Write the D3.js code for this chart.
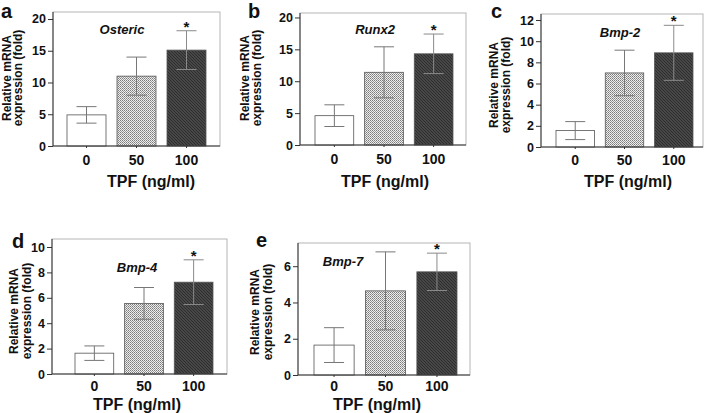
<!DOCTYPE html>
<html><head><meta charset="utf-8">
<script src="https://cdn.jsdelivr.net/npm/d3@7"></script>
<style>
body{margin:0;background:#fff;}
text{font-family:"Liberation Sans",Arial,sans-serif;fill:#111;}
</style></head><body>
<svg id="chart" width="710" height="413"></svg>
<script>
// ---- data ----
const panelLetters = ["a","b","c","d","e"];
const genes = ["Osteric","Runx2","Bmp-2","Bmp-4","Bmp-7"];
const categories = ["0","50","100"];
const meansA = [4.9, 11.0, 15.1];
const meansB = [4.6, 11.4, 14.3];
const meansC = [1.55, 7.0, 8.9];
const meansD = [1.64, 5.56, 7.23];
const meansE = [1.65, 4.64, 5.69];
const errA = [1.3, 3.0, 3.05];
const errB = [1.7, 4.0, 3.1];
const errC = [0.85, 2.15, 2.6];
const errD = [0.57, 1.25, 1.76];
const errE = [0.96, 2.15, 1.03];
const yMaxes = [21.1, 20.7, 12.57, 10.63, 7.28];
const yTicksA = [0,5,10,15,20];
const yTicksB = [0,5,10,15,20];
const yTicksC = [0,2,4,6,8,10,12];
const yTicksD = [0,2,4,6,8,10];
const yTicksE = [0,2,4,6];
const significant = [false,false,true]; // star over 100 ng/ml
const xTitle = "TPF (ng/ml)";
const yLabel1 = "Relative mRNA";
const yLabel2 = "expression (fold)";

const means = [meansA,meansB,meansC,meansD,meansE];
const errs = [errA,errB,errC,errD,errE];
const yTicks = [yTicksA,yTicksB,yTicksC,yTicksD,yTicksE];

// ---- layout (pixels) ----
const layout = [
  {l:53, r:220, t:12, b:146, il:14, ir:14, letter:[1,18], gene:[122,34], yl:[7,18,78], tick:13, title:[151,187]},
  {l:300,r:466, t:13, b:145, il:15, ir:13, letter:[248,18], gene:[375,34], yl:[245,257,78], tick:13, title:[385,187]},
  {l:541,r:703, t:14, b:147, il:15, ir:10, letter:[491,18], gene:[620,37], yl:[494,506,85], tick:12, title:[628,187]},
  {l:52, r:227, t:239,b:374, il:23, ir:14, letter:[12,248], gene:[137,272], yl:[14,27,311], tick:11, title:[137,410]},
  {l:298,r:470, t:243,b:375, il:16, ir:13, letter:[256,247], gene:[343,266], yl:[255,268,312], tick:10, title:[377,410]}
];

const svg = d3.select("#chart");
const defs = svg.append("defs");
// light checkered pattern
const p1 = defs.append("pattern").attr("id","pat50").attr("patternUnits","userSpaceOnUse")
  .attr("width",2).attr("height",2);
p1.append("rect").attr("width",2).attr("height",2).attr("fill","#eeeeee");
p1.append("rect").attr("x",0).attr("y",0).attr("width",1).attr("height",1).attr("fill","#7a7a7a");
p1.append("rect").attr("x",1).attr("y",1).attr("width",1).attr("height",1).attr("fill","#9a9a9a");
// dark pattern
const p2 = defs.append("pattern").attr("id","pat100").attr("patternUnits","userSpaceOnUse")
  .attr("width",3).attr("height",3);
p2.append("rect").attr("width",3).attr("height",3).attr("fill","#474747");
p2.append("rect").attr("x",0).attr("y",0).attr("width",1).attr("height",1).attr("fill","#2e2e2e");
p2.append("rect").attr("x",1).attr("y",1).attr("width",1).attr("height",1).attr("fill","#2e2e2e");
p2.append("rect").attr("x",2).attr("y",2).attr("width",1).attr("height",1).attr("fill","#2e2e2e");
const fills = ["#ffffff","url(#pat50)","url(#pat100)"];

panelLetters.forEach((letter, i) => {
  const L = layout[i];
  const g = svg.append("g");
  const x = d3.scaleBand().domain(categories).range([L.l+L.il, L.r-L.ir]).paddingInner(0.22).paddingOuter(0);
  const y = d3.scaleLinear().domain([0, yMaxes[i]]).range([L.b, L.t]);

  // frame (light)
  g.append("rect").attr("x",L.l).attr("y",L.t).attr("width",L.r-L.l).attr("height",L.b-L.t)
    .attr("fill","none").attr("stroke","#b5b5b5").attr("stroke-width",1);

  const data = categories.map((c,k)=>({c, v:means[i][k], e:errs[i][k], k}));

  // bars
  g.selectAll("rect.bar").data(data).enter().append("rect").attr("class","bar")
    .attr("x", d=>x(d.c)).attr("width", x.bandwidth())
    .attr("y", d=>y(d.v)).attr("height", d=>L.b - y(d.v))
    .attr("fill", d=>fills[d.k]).attr("stroke","#555").attr("stroke-width",0.8);

  // error bars
  const cap = 10;
  data.forEach(d=>{
    const cx = x(d.c)+x.bandwidth()/2;
    const col = d.k===2 ? "#8a8a8a" : "#777";
    g.append("line").attr("x1",cx).attr("x2",cx).attr("y1",y(d.v+d.e)).attr("y2",y(d.v-d.e))
      .attr("stroke",col).attr("stroke-width",1);
    [d.v+d.e, d.v-d.e].forEach(val=>{
      g.append("line").attr("x1",cx-cap).attr("x2",cx+cap).attr("y1",y(val)).attr("y2",y(val))
        .attr("stroke",col).attr("stroke-width",1);
    });
    if (significant[d.k]) {
      g.append("text").attr("x",cx).attr("y",y(d.v+d.e)+1).attr("text-anchor","middle")
        .attr("font-size",15).attr("font-weight","bold").text("*");
    }
  });

  // y axis
  const ya = g.append("g").attr("transform",`translate(${L.l},0)`)
    .call(d3.axisLeft(y).tickValues(yTicks[i]).tickSize(5).tickPadding(2).tickFormat(d3.format("d")));
  ya.select(".domain").attr("stroke","#333").attr("d",`M0,${L.b}V${L.t}`);
  ya.selectAll(".tick line").attr("stroke","#333");
  ya.selectAll(".tick text").attr("font-size",12.5).attr("font-weight","bold")
    .attr("font-family","Liberation Sans, Arial, sans-serif").attr("fill","#111");

  // x axis
  const xa = g.append("g").attr("transform",`translate(0,${L.b})`)
    .call(d3.axisBottom(x).tickSize(2).tickPadding(L.tick-2));
  xa.select(".domain").attr("stroke","#333").attr("d",`M${L.l},0H${L.r}`);
  xa.selectAll(".tick line").attr("stroke","#333");
  xa.selectAll(".tick text").attr("font-size",14).attr("font-weight","bold")
    .attr("font-family","Liberation Sans, Arial, sans-serif").attr("fill","#111")
    .attr("dy","0.45em").attr("y",L.tick);

  // x title
  g.append("text").attr("x",L.title[0]).attr("y",L.title[1]).attr("text-anchor","middle")
    .attr("font-size",16).attr("font-weight","bold").text(xTitle);

  // y labels
  const cy = L.yl[2];
  [[yLabel1,L.yl[0]],[yLabel2,L.yl[1]]].forEach(([t,cx])=>{
    g.append("text").attr("transform",`translate(${cx},${cy}) rotate(-90)`)
      .attr("text-anchor","middle").attr("dominant-baseline","central")
      .attr("font-size",12).attr("font-weight","bold").text(t);
  });

  // gene label
  g.append("text").attr("x",L.gene[0]).attr("y",L.gene[1]).attr("text-anchor","middle")
    .attr("font-size",13).attr("font-weight","bold").attr("font-style","italic").text(genes[i]);

  // panel letter
  g.append("text").attr("x",L.letter[0]).attr("y",L.letter[1])
    .attr("font-size",20).attr("font-weight","bold").text(letter);
});
</script>
</body></html>
